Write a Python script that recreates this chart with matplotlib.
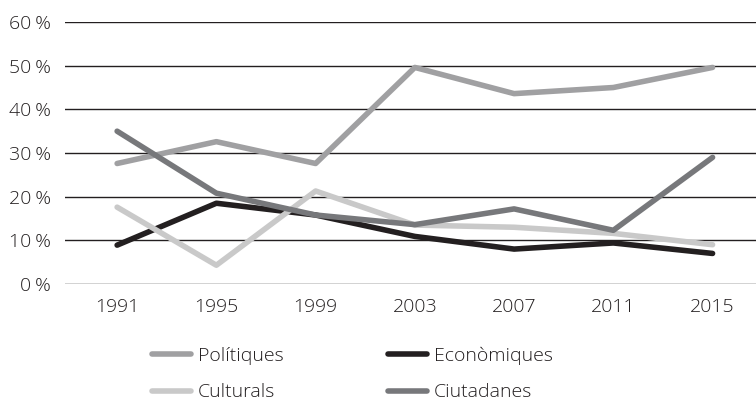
import matplotlib.pyplot as plt
from matplotlib.ticker import FuncFormatter

plt.rcParams["font.family"] = ["Open Sans", "DejaVu Sans"]
plt.rcParams["font.weight"] = "light"

years = [1991, 1995, 1999, 2003, 2007, 2011, 2015]
politiques = [27.6, 32.6, 27.6, 49.6, 43.6, 45.0, 49.6]
economiques = [8.9, 18.5, 15.8, 10.9, 8.0, 9.4, 7.0]
culturals = [17.6, 4.3, 21.3, 13.5, 13.0, 11.6, 9.0]
ciutadanes = [35.0, 20.8, 15.8, 13.6, 17.2, 12.3, 29.0]

fig = plt.figure(figsize=(7.56, 4.04), dpi=100)
ax = fig.add_axes([0.086, 0.297, 0.914, 0.6485])

lw = 4.0
l_pol, = ax.plot(years, politiques, color="#a0a0a2", lw=lw, solid_capstyle="round", label="Polítiques")
l_cul, = ax.plot(years, culturals, color="#c9c9c9", lw=lw, solid_capstyle="round", label="Culturals")
l_cit, = ax.plot(years, ciutadanes, color="#77787b", lw=lw, solid_capstyle="round", label="Ciutadanes")
l_eco, = ax.plot(years, economiques, color="#231f20", lw=lw, solid_capstyle="round", label="Econòmiques")
# Econòmiques sits under the other lines where they cross
l_eco.set_zorder(1.5)
l_cul.set_zorder(1.8)
l_pol.set_zorder(2)
l_cit.set_zorder(2.1)

ax.set_xlim(1988.9, 2016.75)
ax.set_ylim(0, 60)
ax.set_yticks(range(0, 61, 10))
ax.set_xticks(years)
ax.yaxis.set_major_formatter(FuncFormatter(lambda v, p: f"{int(v)}\u2009%"))
ax.grid(axis="y", color="#231f20", lw=1.0)
ax.set_axisbelow(True)
for s in ax.spines.values():
    s.set_visible(False)
ax.tick_params(length=0, labelsize=14, colors="#231f20")
ax.tick_params(axis="y", pad=10)
ax.tick_params(axis="x", pad=10)

fig.legend([l_pol, l_cul, l_eco, l_cit],
           ["Polítiques", "Culturals", "Econòmiques", "Ciutadanes"],
           ncol=2, frameon=False, loc="upper left", bbox_to_anchor=(0.178, 0.185),
           fontsize=14, handlelength=2.0, handletextpad=0.35,
           columnspacing=5.4, labelspacing=0.95, labelcolor="#231f20")

fig.savefig("out.png", dpi=100)
